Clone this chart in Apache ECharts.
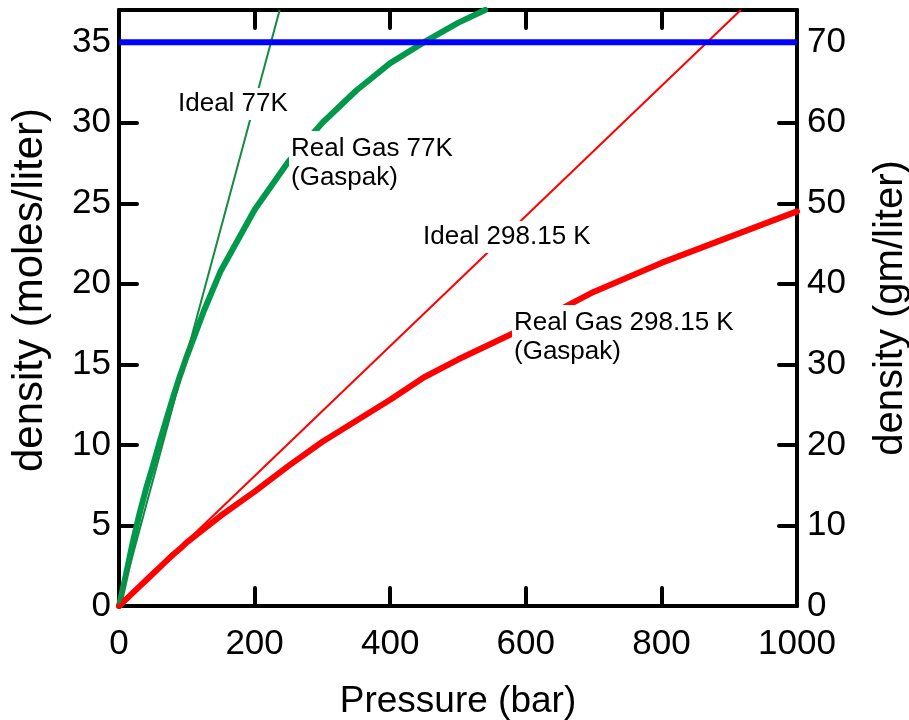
<!DOCTYPE html>
<html>
<head>
<meta charset="utf-8">
<script src="https://cdn.jsdelivr.net/npm/echarts@6/dist/echarts.min.js"></script>
<style>
html,body{margin:0;padding:0;background:#fff;}
#chart{width:909px;height:720px;}
</style>
</head>
<body>
<div id="chart"></div>
<script>
// Pressure (bar) / density (moles/liter)
var real77P   = [0, 10, 20, 30, 40, 50, 60, 70, 80, 90, 100, 125, 150, 200, 250, 300, 350, 400, 450, 500, 540];
var real77D   = [0, 1.9, 3.9, 5.7, 7.3, 8.7, 10.2, 11.6, 13.0, 14.3, 15.5, 18.3, 20.8, 24.6, 27.6, 30.0, 32.0, 33.7, 35.0, 36.2, 37.0];
var ideal77P  = [0, 237];
var ideal77D  = [0, 37];
var real298P  = [0, 10, 20, 30, 40, 50, 60, 70, 80, 90, 100, 150, 200, 250, 300, 350, 400, 450, 500, 600, 700, 800, 900, 1000];
var real298D  = [0, 0.4, 0.8, 1.2, 1.6, 2.0, 2.4, 2.8, 3.2, 3.55, 3.95, 5.6, 7.1, 8.7, 10.2, 11.5, 12.8, 14.2, 15.3, 17.3, 19.5, 21.3, 22.9, 24.5];
var ideal298P = [0, 917];
var ideal298D = [0, 37];
var liquidP   = [0, 1000];
var liquidD   = [35, 35];

var xTicks = [0, 200, 400, 600, 800, 1000];
var yLeftTicks = [0, 5, 10, 15, 20, 25, 30, 35];
var yRightTicks = [0, 10, 20, 30, 40, 50, 60, 70];

function pairs(xs, ys){ return xs.map(function(x,i){ return [x, ys[i]]; }); }

var FONT = '"Liberation Sans", Arial, Helvetica, sans-serif';
var chart = echarts.init(document.getElementById('chart'), null, {renderer:'canvas'});

function axisLine(){ return {show:true, onZero:false, lineStyle:{color:'#000', width:4}}; }
function tick(){ return {show:true, inside:true, length:18, lineStyle:{color:'#000', width:4, cap:'round'}}; }

var option = {
  animation:false,
  backgroundColor:'#fff',
  textStyle:{fontFamily:FONT},
  grid:{left:119, right:112, top:10, bottom:114, containLabel:false, outerBoundsMode:'none'},
  xAxis:[{
    type:'value', position:'bottom', min:0, max:1000, interval:200,
    axisLine:axisLine(), axisTick:tick(), splitLine:{show:false},
    axisLabel:{fontSize:35, color:'#000', margin:21, fontFamily:FONT,
      formatter:function(v){ return xTicks.indexOf(v) >= 0 ? String(v) : ''; }},
    name:'Pressure (bar)', nameLocation:'middle', nameGap:77,
    nameTextStyle:{fontSize:37, color:'#000', fontFamily:FONT}
  },{
    type:'value', position:'top', min:0, max:1000, interval:200,
    axisLine:axisLine(), axisTick:tick(), splitLine:{show:false},
    axisLabel:{show:false}
  }],
  yAxis:[{
    type:'value', position:'left', min:0, max:37, interval:5,
    axisLine:axisLine(), axisTick:tick(), splitLine:{show:false},
    axisLabel:{fontSize:35, color:'#000', margin:8, fontFamily:FONT, showMaxLabel:false,
      formatter:function(v){ return yLeftTicks.indexOf(v) >= 0 ? String(v) : ''; }},
    name:'density (moles/liter)', nameLocation:'middle', nameGap:68, nameRotate:90,
    nameTextStyle:{fontSize:42, color:'#000', fontFamily:FONT, padding:[0,0,0,36]}
  },{
    type:'value', position:'right', min:0, max:74, interval:10,
    axisLine:axisLine(), axisTick:tick(), splitLine:{show:false},
    axisLabel:{fontSize:35, color:'#000', margin:10, fontFamily:FONT, showMaxLabel:false,
      formatter:function(v){ return yRightTicks.indexOf(v) >= 0 ? String(v) : ''; }},
    name:'density (gm/liter)', nameLocation:'middle', nameGap:74, nameRotate:90,
    nameTextStyle:{fontSize:40, color:'#000', fontFamily:FONT}
  }],
  series:[
    {type:'line', name:'Real Gas 77K', data:pairs(real77P, real77D), showSymbol:false, symbol:'none',
      lineStyle:{color:'#00994c', width:6, cap:'round', join:'round'}, z:2},
    {type:'line', name:'Real Gas 298.15 K', data:pairs(real298P, real298D), showSymbol:false, symbol:'none',
      lineStyle:{color:'#ff0000', width:6, cap:'round', join:'round'}, z:2},
    {type:'line', name:'Ideal 77K', data:pairs(ideal77P, ideal77D), showSymbol:false, symbol:'none',
      lineStyle:{color:'#138a40', width:2}, z:3},
    {type:'line', name:'Ideal 298.15 K', data:pairs(ideal298P, ideal298D), showSymbol:false, symbol:'none',
      lineStyle:{color:'#ff0000', width:2}, z:3},
    {type:'line', name:'liquid', data:pairs(liquidP, liquidD), showSymbol:false, symbol:'none',
      lineStyle:{color:'#0000ff', width:6}, z:4}
  ],
  graphic:[
    {type:'text', left:176, top:88, z:100, style:{text:'Ideal 77K', font:'26px '+FONT, fill:'#000', backgroundColor:'#fff', padding:[3,2,3,2]}},
    {type:'text', left:289, top:131, z:100, style:{text:'Real Gas 77K\n(Gaspak)', font:'26px '+FONT, fill:'#000', lineHeight:29, backgroundColor:'#fff', padding:[3,2,3,2]}},
    {type:'text', left:421, top:221, z:100, style:{text:'Ideal 298.15 K', font:'26px '+FONT, fill:'#000', backgroundColor:'#fff', padding:[3,2,3,2]}},
    {type:'text', left:512, top:305, z:100, style:{text:'Real Gas 298.15 K\n(Gaspak)', font:'26px '+FONT, fill:'#000', lineHeight:29, backgroundColor:'#fff', padding:[3,2,3,2]}}
  ]
};
chart.setOption(option);
</script>
</body>
</html>
